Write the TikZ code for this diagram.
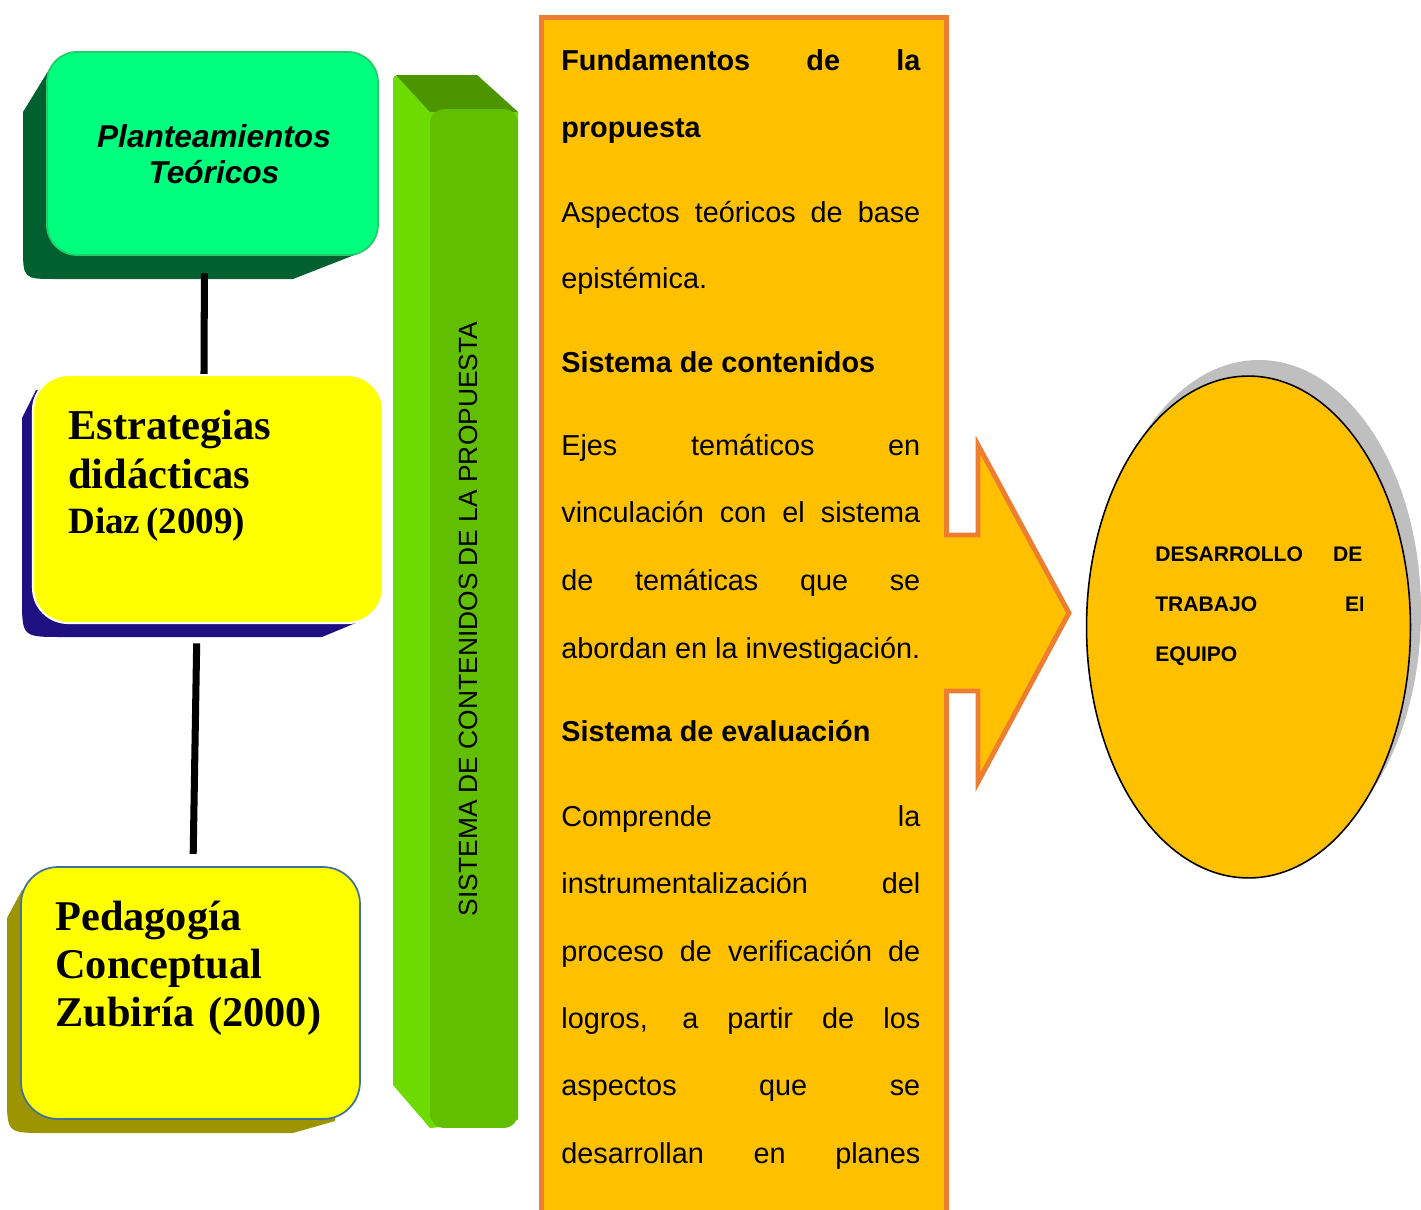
\documentclass[tikz,border=0pt]{standalone}
\usepackage{fontspec}
\setmainfont{Liberation Serif}
\setsansfont{Liberation Sans}
\usetikzlibrary{shapes.geometric,calc}

\definecolor{mintfront}{HTML}{00FF7F}
\definecolor{mintedge}{HTML}{22CC66}
\definecolor{mintside}{HTML}{00602F}
\definecolor{lemon}{HTML}{FFFF00}
\definecolor{navyside}{HTML}{1F0F80}
\definecolor{oliveside}{HTML}{9C9400}
\definecolor{bluedge}{HTML}{41719C}
\definecolor{barfront}{HTML}{62BE00}
\definecolor{barleft}{HTML}{6DDA00}
\definecolor{bartop}{HTML}{4C9400}
\definecolor{amber}{HTML}{FFC000}
\definecolor{amberedge}{HTML}{ED7D31}
\definecolor{shadegray}{HTML}{BFBFBF}

% one justified line of the orange column
\newcommand{\fullline}[1]{\makebox[7.18cm][s]{#1}}

\tikzset{
    card/.style={
           rectangle,
           rounded corners=20pt,
           inner sep=0pt,
           line width=1pt,
           },
    cardtext/.style={
           anchor=base west,
           inner sep=0pt,
           text width=6.6cm,
           align=left,
           font=\bfseries,
           },
    link/.style={
           line width=4pt,
           black,
           },
    txtline/.style={
           anchor=base west,
           inner sep=0pt,
           font=\sffamily\fontsize{16.4}{19}\selectfont,
           },
    ovaltext/.style={
           anchor=base west,
           inner sep=0pt,
           font=\sffamily\bfseries\fontsize{12}{14}\selectfont,
           },
}

\begin{document}
\begin{tikzpicture}[x=0.02cm, y=-0.02cm]
    \useasboundingbox (0,0) rectangle (1421,1210);

    % dark sides of the three boxes on the left
    \fill[mintside] (50,68) -- (23,112) -- (23,246) .. controls (23,279) .. (56,279)
        -- (293,279) -- (357,254) -- (360,68) -- cycle;
    \fill[navyside] (36,390) -- (22,418) -- (22,597) .. controls (22,637) .. (62,637)
        -- (322,637) -- (358,622) -- (370,390) -- cycle;
    \fill[oliveside] (22,890) -- (7,918) -- (7,1095) .. controls (7,1133) .. (45,1133)
        -- (293,1133) -- (335,1121) -- (350,890) -- cycle;

    % faces
    \node[card, fill=mintfront, draw=mintedge, rounded corners=17pt,
    minimum width=6.62cm, minimum height=4.06cm,
    anchor=center] (plan) at (212.5,153.5) {};
    \node[cardtext, anchor=base, align=center, text width=6cm,
    font=\sffamily\bfseries\itshape\fontsize{18}{21}\selectfont] (plantxt)
    at (214,147) {Planteamientos\\Teóricos};

    \node[card, fill=lemon, draw=white, line width=1.2pt,
    minimum width=7cm, minimum height=4.96cm,
    anchor=center] (estr) at (208,499) {};
    \node[cardtext] (estrtxt) at (68,439)
    {{\fontsize{24.2}{28.3}\selectfont Estrategias\par didácticas\par}%
     {\fontsize{21.1}{25.5}\selectfont Diaz (2009)\par}};

    \node[card, fill=lemon, draw=bluedge, rounded corners=21pt,
    minimum width=6.78cm, minimum height=5.04cm,
    anchor=center] (peda) at (190.5,993) {};
    \node[cardtext, text width=6.4cm,
    font=\bfseries\fontsize{24.1}{27.5}\selectfont] (pedatxt)
    at (55,930) {Pedagogía\par Conceptual\par Zubiría (2000)};

    % the lines between them
    \draw[link, shorten <=10pt] ($(plan.south)+(-8,0)$) -- ($(estr.north)+(-4,0)$);
    \draw[link, shorten <=11pt, shorten >=7pt] ($(estr.south)+(-11,0)$) -- ($(peda.north)+(2.5,0)$);

    % green bar
    \fill[barleft] (393,85) .. controls (393,75) .. (403,75) -- (477,75) -- (518,112)
        -- (518,1120) -- (430,1128) -- (393,1085) -- cycle;
    \fill[bartop] (396,75) -- (477,75) -- (518,112) -- (430,112) -- cycle;
    \node[card, rounded corners=8pt, fill=barfront,
    minimum width=1.76cm, minimum height=20.38cm] (bar) at (474,618.5) {};
    \node[rotate=90, inner sep=0pt, font=\sffamily\fontsize{15}{18}\selectfont] (bartitle)
    at (468,619) {SISTEMA DE CONTENIDOS DE LA PROPUESTA};

    % orange column and its arrow
    \node[rectangle, fill=amber, draw=amberedge, line width=2.8pt,
    minimum width=8.1cm, minimum height=24.3cm,
    anchor=north west] (fund) at (539,15) {};
    \fill[amber] (934,535) -- (978,535) -- (978,445) -- (1069,613) -- (978,782)
        -- (978,691) -- (934,691) -- cycle;
    \draw[amberedge, line width=2.8pt] (944,535) -- (978,535) -- (978,445) -- (1069,613)
        -- (978,782) -- (978,691) -- (944,691);

    \foreach \yy/\txt [count=\i] in {
        71/{\bfseries\fullline{Fundamentos de la}},
        137/{\bfseries propuesta},
        222/{\fullline{Aspectos teóricos de base}},
        288/{epistémica.},
        372/{\bfseries Sistema de contenidos},
        455/{\fullline{Ejes temáticos en}},
        522/{\fullline{vinculación con el sistema}},
        590/{\fullline{de temáticas que se}},
        658/{abordan en la investigación.},
        741/{\bfseries Sistema de evaluación},
        826/{\fullline{Comprende la}},
        893/{\fullline{instrumentalización del}},
        961/{\fullline{proceso de verificación de}},
        1028/{\fullline{logros, a partir de los}},
        1095/{\fullline{aspectos que se}},
        1163/{\fullline{desarrollan en planes}}}
        \node[txtline] (line\i) at (561,\yy) {\txt};

    % oval with its shadow
    \fill[shadegray] (1259,611) ellipse [x radius=162, y radius=251];
    \node[ellipse, fill=amber, draw=black, line width=0.9pt, inner sep=0pt,
    minimum width=6.48cm, minimum height=10.04cm] (goal) at (1248.5,627) {};

    \node[ovaltext] (oval1) at (1155,561) {\makebox[4.14cm][s]{DESARROLLO DE}};
    \begin{scope}
        \clip (1100,580) rectangle (1362,630);
        \node[ovaltext] (oval2) at (1155,611) {\makebox[4.38cm][s]{TRABAJO EN}};
    \end{scope}
    \node[ovaltext] (oval3) at (1155,661) {EQUIPO};
\end{tikzpicture}
\end{document}
